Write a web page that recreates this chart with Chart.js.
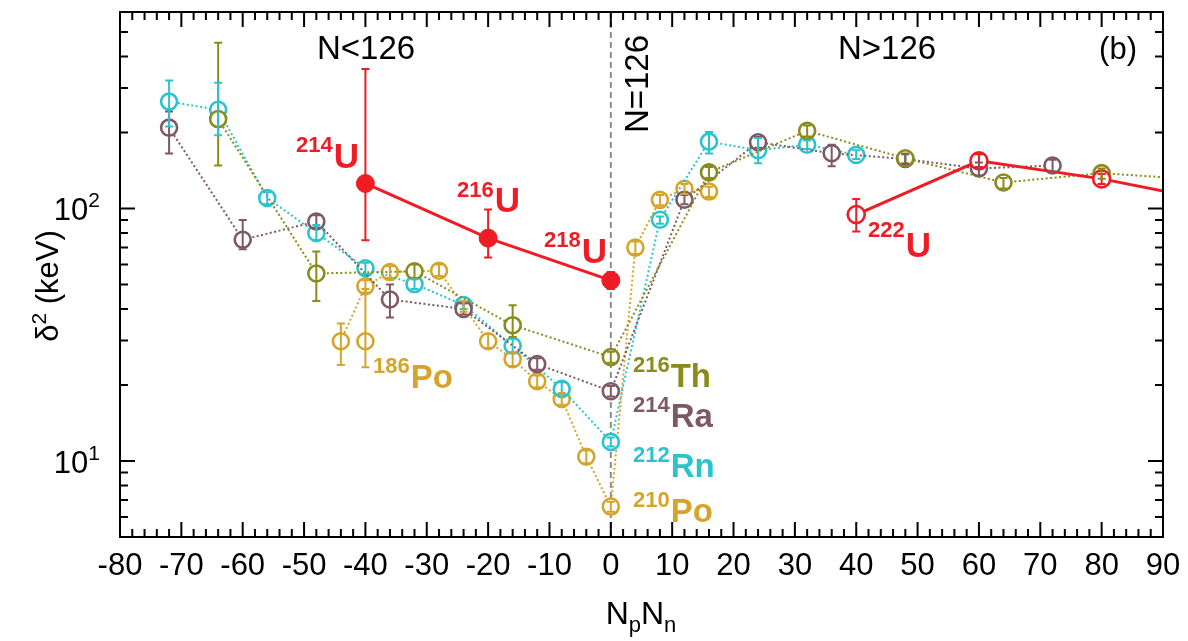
<!DOCTYPE html>
<html><head><meta charset="utf-8">
<script src="https://cdn.jsdelivr.net/npm/chart.js@4.4.0/dist/chart.umd.min.js"></script>
<style>html,body{margin:0;padding:0;background:#fff;}</style>
</head><body>
<canvas id="c" width="1188" height="641"></canvas>
<script>
// ---------- data ----------
const xTickMin = -80, xTickMax = 90, xTickStep = 10;
const yTickValues = [10, 100];
const yTickBase = ['10', '10'];
const yTickExp = ['1', '2'];

// 210Po chain (gold)
const poX  = [-44, -40, -36, -28, -24, -20, -16, -12, -8, -4, 0, 4, 8, 12, 16];
const poY  = [29.8, 49.2, 56.0, 56.7, 41.0, 29.8, 25.3, 20.7, 17.6, 10.4, 6.6, 70.0, 108.2, 119.6, 116.7];
const poLo = [24.0, 46.5, 53.0, 54.0, 39.0, 28.0, 23.8, 19.6, 16.7, 9.8, 6.3, 66.0, 103.0, 114.0, 111.0];
const poHi = [35.0, 52.0, 59.0, 60.0, 43.0, 31.8, 27.0, 21.8, 18.6, 11.0, 6.9, 74.0, 113.0, 125.0, 122.0];
// extra Po point (no line)
const po2X  = [-40];
const po2Y  = [29.8];
const po2Lo = [23.5];
const po2Hi = [48.0];

// 212Rn chain (cyan)
const rnX  = [-72, -64, -56, -48, -40, -32, -24, -16, -8, 0, 8, 16, 24, 32, 40];
const rnY  = [265, 246, 110, 80, 58, 50.2, 41.5, 28.6, 19.3, 11.9, 90.2, 184, 170, 179, 163];
const rnLo = [211, 195, 104, 75, 55, 48.0, 40.0, 27.0, 18.4, 11.4, 87.0, 165, 151, 172, 157];
const rnHi = [321, 315, 116, 86, 61, 52.5, 43.0, 30.5, 20.5, 12.4, 93.0, 201, 190, 186, 170];

// 214Ra chain (mauve)
const raX  = [-72, -60, -48, -36, -24, -12, 0, 12, 24, 36, 48, 60, 72];
const raY  = [209, 75.2, 88.8, 43.6, 40.0, 24.2, 18.9, 108.3, 183, 165.5, 157, 144, 148];
const raLo = [165, 69.0, 84.0, 37.0, 38.0, 23.0, 18.0, 104.0, 174, 147.0, 150, 135, 140];
const raHi = [242, 90.0, 94.0, 50.0, 42.0, 25.5, 19.8, 113.0, 192, 179.0, 164, 152, 156];

// 216Th chain (olive)
const thX  = [-64, -48, -32, -16, 0, 16, 32, 48, 64, 80, 96];
const thY  = [226, 55.3, 56.4, 34.5, 25.8, 139, 203, 158, 126.7, 138, 130];
const thLo = [148, 43.0, 53.0, 31.0, 24.5, 132, 193, 151, 120.0, 131, 124];
const thHi = [453, 67.6, 60.0, 41.4, 27.1, 146, 213, 165, 132.0, 144, 136];

// U, N<126 (filled) and N>126 (open)
const u1X  = [-40, -20, 0];
const u1Y  = [125.6, 76.3, 51.9];
const u1Lo = [74.8, 64.0, 48.0];
const u1Hi = [357, 99.0, 56.0];
const u2X  = [40, 60, 80, 100];
const u2Y  = [94.6, 154.4, 131, 105];
const u2Lo = [81.0, 146.0, 125, 100];
const u2Hi = [109.0, 164.0, 137, 110];

// ---------- styling ----------
const FONT = "'Liberation Sans', Arial, Helvetica, sans-serif";
const C_RED = '#ee1c24', C_CYAN = '#2cc3cc', C_RA = '#7d5a63', C_TH = '#8b8b1c', C_PO = '#d4a52a';

function pts(xs, ys) { return xs.map((x, i) => ({ x: x, y: ys[i] })); }
function chainDS(label, xs, ys, lo, hi, color, showLine) {
  return {
    label: label, data: pts(xs, ys), errX: xs, errLo: lo, errHi: hi,
    showLine: showLine, borderColor: color, borderWidth: 2, borderDash: [2, 2.5],
    pointRadius: 8, pointBorderWidth: 2.6, pointBorderColor: color,
    pointBackgroundColor: '#ffffff', pointStyle: 'circle', errColor: color
  };
}

const datasets = [
  { label: 'U N<126', data: pts(u1X, u1Y), errX: u1X, errLo: u1Lo, errHi: u1Hi, errColor: C_RED,
    showLine: true, borderColor: C_RED, borderWidth: 3, pointRadius: 9, pointBorderWidth: 1,
    pointBorderColor: C_RED, pointBackgroundColor: C_RED },
  { label: 'U N>126', data: pts(u2X, u2Y), errX: u2X, errLo: u2Lo, errHi: u2Hi, errColor: C_RED,
    showLine: true, borderColor: C_RED, borderWidth: 3, pointRadius: 8.5, pointBorderWidth: 2.6,
    pointBorderColor: C_RED, pointBackgroundColor: '#ffffff' },
  chainDS('Th', thX, thY, thLo, thHi, C_TH, true),
  chainDS('Ra', raX, raY, raLo, raHi, C_RA, true),
  chainDS('Rn', rnX, rnY, rnLo, rnHi, C_CYAN, true),
  chainDS('Po', poX, poY, poLo, poHi, C_PO, true),
  chainDS('Po2', po2X, po2Y, po2Lo, po2Hi, C_PO, false)
];

// ---------- plugins ----------
const decorations = {
  id: 'decorations',
  beforeDatasetsDraw(chart) {
    const { ctx, chartArea: a, scales: { x } } = chart;
    const px = x.getPixelForValue(0);
    ctx.save();
    ctx.strokeStyle = '#8c8c8c'; ctx.lineWidth = 2; ctx.setLineDash([6, 4]);
    ctx.beginPath(); ctx.moveTo(px, a.top); ctx.lineTo(px, a.bottom); ctx.stroke();
    ctx.restore();
  },
  afterDatasetsDraw(chart) {
    const { ctx, chartArea: a, scales: { x, y } } = chart;
    ctx.save();
    ctx.beginPath(); ctx.rect(a.left, a.top, a.right - a.left, a.bottom - a.top); ctx.clip();
    chart.data.datasets.forEach(ds => {
      if (!ds.errLo) return;
      ctx.strokeStyle = ds.errColor; ctx.lineWidth = 2; ctx.setLineDash([]);
      ds.errX.forEach((xv, i) => {
        const px = x.getPixelForValue(xv);
        const yl = y.getPixelForValue(ds.errLo[i]);
        const yh = y.getPixelForValue(ds.errHi[i]);
        ctx.beginPath();
        ctx.moveTo(px, yl); ctx.lineTo(px, yh);
        ctx.moveTo(px - 4, yl); ctx.lineTo(px + 4, yl);
        ctx.moveTo(px - 4, yh); ctx.lineTo(px + 4, yh);
        ctx.stroke();
      });
    });
    ctx.restore();
  },
  afterDraw(chart) {
    const { ctx, chartArea: a, scales: { x, y } } = chart;
    ctx.save();
    // frame
    ctx.strokeStyle = '#000'; ctx.lineWidth = 2; ctx.setLineDash([]);
    ctx.strokeRect(a.left, a.top, a.right - a.left, a.bottom - a.top);
    // x ticks (inside, bottom and top)
    ctx.lineWidth = 2;
    for (let v = xTickMin; v <= xTickMax; v += 2) {
      const px = x.getPixelForValue(v);
      const len = (v % 10 === 0) ? 15 : 8;
      ctx.beginPath();
      ctx.moveTo(px, a.bottom); ctx.lineTo(px, a.bottom - len);
      ctx.moveTo(px, a.top); ctx.lineTo(px, a.top + len);
      ctx.stroke();
    }
    // y ticks (log)
    for (let dec = 1; dec <= 100; dec *= 10) {
      for (let m = 1; m <= 9; m++) {
        const v = m * dec;
        if (v < y.min || v > y.max) continue;
        const py = y.getPixelForValue(v);
        const len = (m === 1) ? 15 : 8;
        ctx.beginPath();
        ctx.moveTo(a.left, py); ctx.lineTo(a.left + len, py);
        ctx.moveTo(a.right, py); ctx.lineTo(a.right - len, py);
        ctx.stroke();
      }
    }

    // helpers
    function txt(s, px, py, size, color, bold, align) {
      ctx.font = (bold ? 'bold ' : '') + size + 'px ' + FONT;
      ctx.fillStyle = color; ctx.textAlign = align || 'left'; ctx.textBaseline = 'alphabetic';
      ctx.fillText(s, px, py);
      return ctx.measureText(s).width;
    }
    function iso(sup, main, px, supBase, mainBase, color, supSize, mainSize) {
      const w = txt(sup, px, supBase, supSize, color, true);
      txt(main, px + w + 1, mainBase, mainSize, color, true);
    }

    // y tick labels with superscript exponents
    yTickValues.forEach((v, i) => {
      const py = y.getPixelForValue(v);
      ctx.font = '21px ' + FONT;
      const we = ctx.measureText(yTickExp[i]).width;
      const right = a.left - 20;
      txt(yTickExp[i], right, py - 1, 21, '#000', false, 'right');
      txt(yTickBase[i], right - we, py + 12, 31, '#000', false, 'right');
    });

    // region labels
    txt('N<126', 317, 59, 33, '#000', false);
    txt('N>126', 838, 59, 33, '#000', false);
    txt('(b)', 1137, 59, 31, '#000', false, 'right');
    ctx.save();
    ctx.translate(648, 84); ctx.rotate(-Math.PI / 2);
    txt('N=126', 0, 0, 33, '#000', false, 'center');
    ctx.restore();

    // isotope labels
    iso('214', 'U', 296, 152, 168, C_RED, 22, 35);
    iso('216', 'U', 457, 197, 212, C_RED, 22, 35);
    iso('218', 'U', 544, 247, 263, C_RED, 22, 35);
    iso('222', 'U', 868, 237, 257, C_RED, 22, 35);
    iso('186', 'Po', 373, 373, 388, C_PO, 22, 33);
    iso('216', 'Th', 633, 372, 387, C_TH, 22, 33);
    iso('214', 'Ra', 633, 412, 427, C_RA, 22, 33);
    iso('212', 'Rn', 633, 462, 477, C_CYAN, 22, 33);
    iso('210', 'Po', 633, 507, 522, C_PO, 22, 33);

    // axis titles
    ctx.font = '32px ' + FONT;
    const wN = ctx.measureText('N').width;
    ctx.font = '22px ' + FONT;
    const wp = ctx.measureText('p').width, wn = ctx.measureText('n').width;
    let tx = 641 - (2 * wN + wp + wn) / 2;
    txt('N', tx, 624, 32, '#000', false); tx += wN;
    txt('p', tx, 632, 22, '#000', false); tx += wp;
    txt('N', tx, 624, 32, '#000', false); tx += wN;
    txt('n', tx, 632, 22, '#000', false);

    ctx.save();
    ctx.translate(58, 286); ctx.rotate(-Math.PI / 2);
    ctx.font = '31px ' + FONT;
    const wd = ctx.measureText('\u03B4').width, wk = ctx.measureText(' (keV)').width;
    ctx.font = '21px ' + FONT;
    const w2 = ctx.measureText('2').width;
    let ty = -(wd + w2 + wk) / 2;
    txt('\u03B4', ty, 0, 31, '#000', false); ty += wd;
    txt('2', ty, -12, 21, '#000', false); ty += w2;
    txt(' (keV)', ty, 0, 31, '#000', false);
    ctx.restore();

    ctx.restore();
  }
};

new Chart(document.getElementById('c'), {
  type: 'scatter',
  data: { datasets: datasets },
  options: {
    responsive: false, animation: false, devicePixelRatio: 1,
    layout: { padding: { left: 0, right: 25, top: 12, bottom: 0 } },
    plugins: { legend: { display: false }, tooltip: { enabled: false } },
    scales: {
      x: {
        type: 'linear', min: xTickMin, max: xTickMax,
        grid: { display: false, drawTicks: false }, border: { display: false },
        ticks: { stepSize: xTickStep, autoSkip: false, maxRotation: 0, padding: 11,
                 color: '#000', font: { family: FONT, size: 31 },
                 callback: v => String(v) },
        afterFit: s => { s.height = 104; s.paddingLeft = 0; s.paddingRight = 0; }
      },
      y: {
        type: 'logarithmic', min: 5, max: 600,
        grid: { display: false, drawTicks: false }, border: { display: false },
        afterBuildTicks: s => { s.ticks = yTickValues.map(v => ({ value: v })); },
        ticks: { display: false },
        afterFit: s => { s.width = 120; s.paddingTop = 0; s.paddingBottom = 0; }
      }
    }
  },
  plugins: [decorations]
});
</script>
</body></html>
